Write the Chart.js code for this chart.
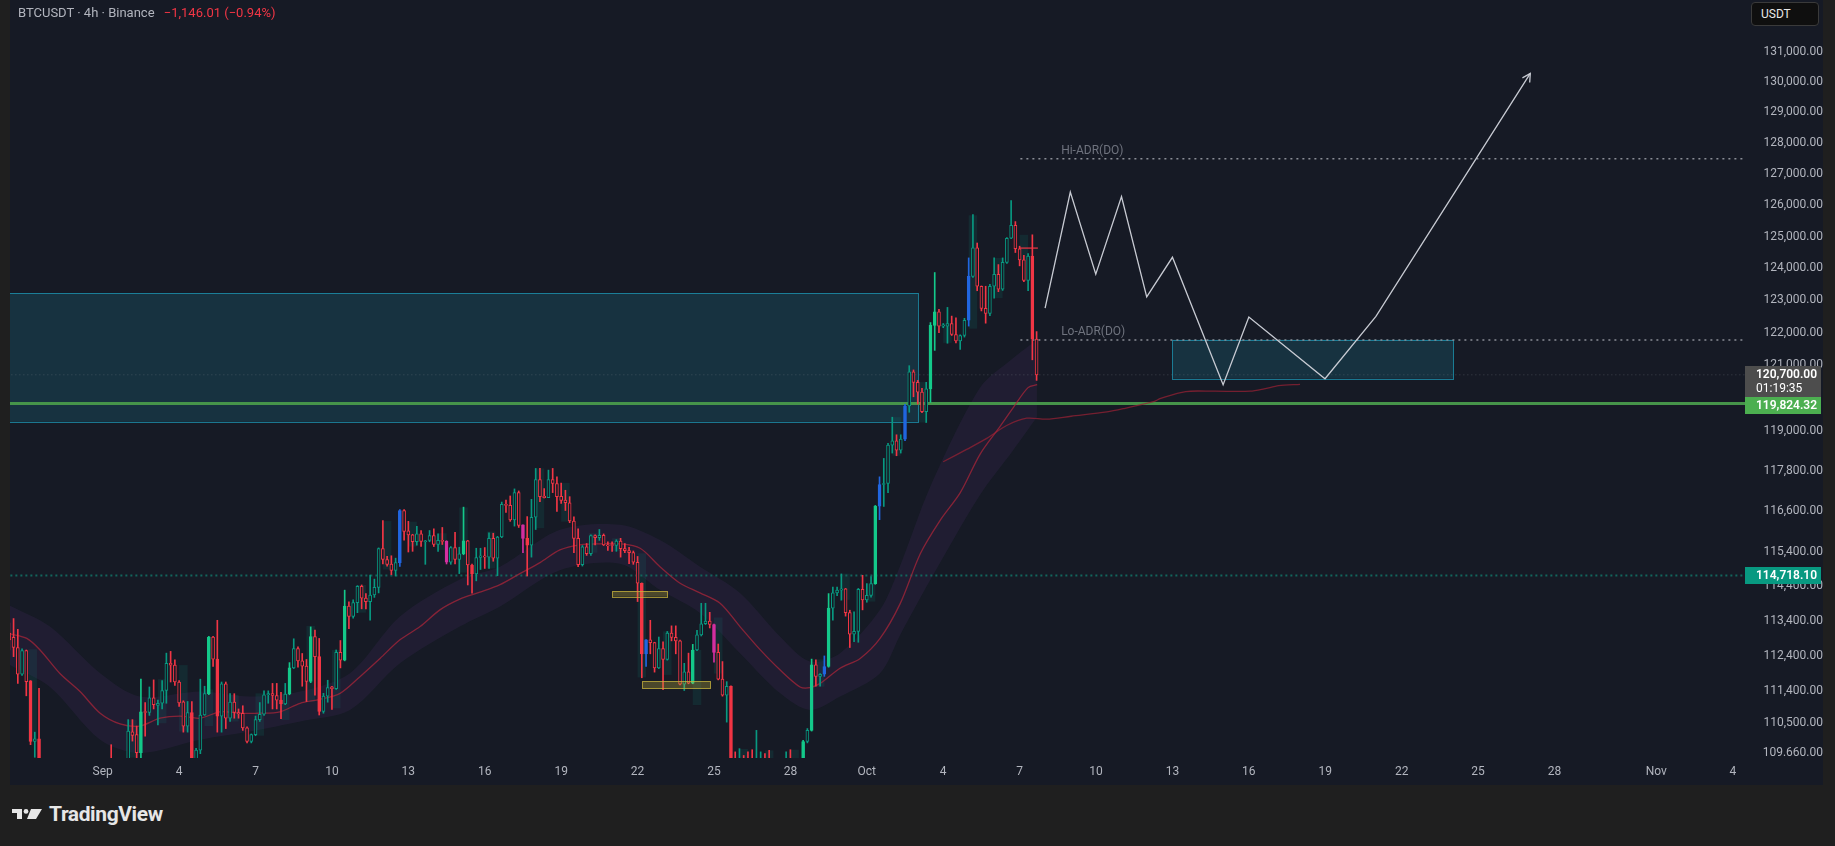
<!DOCTYPE html>
<html lang="en">
<head>
<meta charset="UTF-8">
<title>BTCUSDT 4h Binance</title>
<script src="https://cdn.jsdelivr.net/npm/chart.js"></script>
<style>
  html, body { margin: 0; padding: 0; width: 1835px; height: 846px; overflow: hidden; background: #1f1f1f; font-family: Roboto, "Liberation Sans", sans-serif; }
  #panel { position: absolute; left: 10px; top: 0; width: 1813px; height: 785px; background: #161a25; }
  #title { position: absolute; left: 18px; top: 5px; font-size: 13px; color: #b2b5be; white-space: nowrap; }
  #title .chg { color: #f23645; margin-left: 6px; }
  #unit { position: absolute; left: 1751px; top: 2px; width: 68px; height: 24px; box-sizing: border-box; border: 1px solid #3a3a3a; border-radius: 4px; background: #0f0f0f; color: #e8e8e8; font-size: 12px; line-height: 22px; padding-left: 9px; }
  #logo { position: absolute; left: 12px; top: 802px; height: 24px; display: flex; align-items: center; color: #e6e6e6; font-size: 21px; font-weight: 700; letter-spacing: -0.4px; }
  #logo svg { margin-right: 7px; margin-top: -1px; }
</style>
</head>
<body>
<div id="panel"><canvas id="btcChart" width="1813" height="785"></canvas></div>
<div id="title">BTCUSDT · 4h · Binance <span class="chg">−1,146.01 (−0.94%)</span></div>
<div id="unit">USDT</div>
<div id="logo">
  <svg width="30" height="10" viewBox="0 0 30 10"><rect x="0" y="0" width="10" height="4" fill="#e6e6e6"/><rect x="5" y="0" width="5" height="10" fill="#e6e6e6"/><circle cx="14" cy="2.4" r="2.4" fill="#e6e6e6"/><polygon points="19,0 30,0 24,10 15,10" fill="#e6e6e6"/></svg>
  TradingView
</div>
<script>
// --- 4h candles, first bar Aug 28 08:00 (day 0 = Sep 1) ---
const firstCandleDay = -11 / 3;
const candleStep = 1 / 6;
// [open, high, low, close]
const ohlc = [
  [113050,113340,112570,112860],[112930,113470,112380,112640],[112640,113160,111620,111880],[111880,112600,111850,112550],
  [112550,112570,111270,111670],[111690,111700,109900,109990],[109990,110250,109550,110060],[110060,111480,109000,109300],
  [109300,109450,108800,108950],[108950,109200,108400,108600],[108600,108900,108100,108300],[108300,108700,107900,108500],
  [108500,109000,108300,108800],[108800,109300,108500,109000],[109000,109400,108700,108900],[108900,109200,108300,108500],
  [108500,108800,107800,108100],[108100,108600,107600,108400],[108400,109100,108200,108900],[108900,109400,108600,109100],
  [109100,109400,108700,108800],[108800,109300,108500,109000],[109000,109450,108800,109200],[109200,109450,108900,109300],
  [109300,109900,108900,109100],[109100,109400,108600,108800],[108800,109200,108500,109000],[109000,109400,108700,109300],
  [109300,110600,109200,110280],[110260,110600,110000,110160],[110180,110420,109400,109680],[109680,111740,109300,110820],
  [110820,111080,110140,110800],[110800,111520,110720,111210],[111210,111720,110900,111020],[111000,111150,110450,111060],
  [111060,111700,110900,111420],[111420,112480,111060,112190],[112190,112530,111660,112140],[112140,112290,111560,111660],
  [111660,111700,110970,111070],[111100,111130,110250,110420],[110420,111110,110250,110800],[110800,111110,109000,109300],
  [109300,109800,109000,109750],[109750,111740,109650,110730],[110730,111540,110720,111330],[111330,112960,111300,112940],
  [112940,112960,112100,112310],[112310,113420,110250,110700],[110700,111660,110250,111610],[111610,111660,110350,110640],
  [110640,111330,110550,111090],[111090,111330,110640,110800],[110800,110900,110640,110760],[110780,110990,110300,110370],
  [110370,110400,109950,109990],[109990,110200,109950,110180],[110180,110700,110150,110600],[110600,111080,110550,110750],
  [110750,111410,110720,111300],[111300,111410,111060,111330],[111330,111620,110900,111280],[111280,111620,110900,111150],
  [111150,111370,110630,111040],[111040,111620,111020,111320],[111320,112210,111300,112060],[112060,112890,112040,112610],
  [112610,112660,112080,112260],[112260,112470,111540,112110],[112110,112300,111110,111680],[111680,113230,111640,112950],
  [112950,113140,111290,112380],[112380,112900,110730,110830],[110830,111340,110780,111260],[111260,111710,111090,111500],
  [111520,111540,110890,111470],[111470,112570,111450,112500],[112500,112840,112060,112280],[112280,114290,112260,113830],
  [113830,113950,113180,113530],[113530,114010,113480,113930],[113930,114420,113640,114400],[114400,114440,113750,114060],
  [114060,114190,113750,113960],[113960,114730,113420,114150],[114150,114610,114080,114370],[114370,115520,114210,115500],
  [115500,116320,115050,115180],[115180,115270,114990,115040],[115050,115290,114740,114860],[114860,115220,114700,115090],
  [115090,116650,114980,116620],[116620,116650,115750,116000],[116020,116300,115400,115900],[115900,115920,115420,115700],
  [115700,116150,115600,115930],[115930,116030,115560,115710],[115700,115740,115040,115730],[115740,116030,115700,115880],
  [115880,116080,115560,115620],[115620,115930,115420,115740],[115740,116120,115620,115710],[115710,115730,115050,115100],
  [115100,115560,115040,115530],[115530,115980,115050,115180],[115180,115540,114770,115350],[115350,116720,115320,115730],
  [115730,115740,114440,115020],[115020,115050,114200,114760],[114760,115510,114560,115240],[115240,115510,114890,115290],
  [115290,115530,114920,115250],[115250,115960,114920,115800],[115800,115950,115130,115220],[115220,115860,114710,115840],
  [115840,116870,115820,116800],[116800,116930,116560,116770],[116770,117050,116300,116340],[116340,117260,116160,117150],
  [117150,117200,116120,116180],[116200,116200,115380,115800],[115800,116440,114700,115600],[115600,116950,115250,116420],
  [116420,117870,116060,117540],[117540,117870,116880,117030],[117050,117270,116990,117000],[117000,117820,117000,117540],
  [117540,117870,117150,117420],[117420,117620,116590,117030],[117040,117430,116830,116920],[116930,117220,116620,116850],
  [116850,117030,116260,116310],[116310,116430,115380,115800],[115800,116080,114970,115030],[115030,115590,114990,115550],
  [115550,115650,115300,115350],[115350,115900,115300,115880],[115880,115900,115610,115820],[115820,116060,115740,115890],
  [115890,115930,115590,115610],[115610,115700,115450,115580],[115600,115700,115420,115590],[115590,115760,115420,115720],
  [115720,115800,115250,115500],[115500,115650,115380,115440],[115440,115540,115060,115380],[115380,115430,115040,115100],
  [115100,115270,113960,114490],[114490,114500,111780,112460],[112460,112870,112100,112860],[112860,113420,112460,112780],
  [112780,112790,111940,112060],[112060,112940,112040,112610],[112610,112800,111440,112300],[112300,113100,112280,113050],
  [113050,113260,112830,112930],[112930,113260,112460,112830],[112830,112850,111580,111600],[111600,112190,111420,111950],
  [111950,112480,111610,111630],[111630,112730,111610,112570],[112570,113130,112550,113000],[113000,113910,112970,113320],
  [113320,113910,113300,113400],[113400,113650,113200,113300],[113300,113310,112220,112500],[112500,112740,111720,111740],
  [111740,112240,111260,111290],[111290,111670,110530,111540],[111540,111550,108900,109300],[109300,109700,108800,109000],
  [109000,109790,108900,109350],[109350,109600,108700,108900],[108900,109700,108600,108800],[108800,109760,108600,108700],
  [108700,110300,108600,109100],[109100,109700,109000,109400],[109400,109650,108900,109100],[109100,109740,108700,108900],
  [108900,109400,108700,109200],[109200,109450,109000,109300],[109300,109450,108900,109100],[109100,109700,109000,109350],
  [109350,109760,109000,109100],[109100,109450,108950,109250],[109250,109450,109100,109300],[109300,110020,109200,109990],
  [109990,110350,109950,110300],[110300,112310,110280,112150],[112150,112290,111540,111820],[111820,111900,111540,111880],
  [111880,112400,111820,112100],[112100,114190,112080,113770],[113770,114380,113420,114210],[114210,114380,114130,114290],
  [114290,114760,114000,114330],[114330,114340,113540,113640],[113640,113710,112640,113020],[113020,113660,112810,113100],
  [113100,114340,112790,114310],[114310,114720,113720,114010],[114010,114480,113940,114140],[114140,114680,114090,114480],
  [114480,116770,114460,116750],[116750,117620,116350,117390],[117390,118170,116740,117420],[117420,118620,117150,118570],
  [118570,119410,118330,118700],[118700,118880,118250,118420],[118420,118880,118330,118750],[118750,119800,118700,119750],
  [119750,120980,119560,120790],[120790,120850,120030,120470],[120470,120530,119810,120170],[120170,120290,119550,119580],
  [119580,120470,119250,120270],[120270,122310,119860,122220],[122220,123870,121450,122640],[122640,122720,122000,122200],
  [122200,122280,122150,122240],[122200,122780,121670,122280],[122280,122510,121910,121940],[121940,122460,121680,121740],
  [121740,121930,121480,121910],[121910,122440,121860,122380],[122380,124330,122200,123750],[123750,125700,123720,124650],
  [124650,124800,123300,123440],[123440,123450,122670,122750],[122750,123440,122290,122590],[122590,123500,122520,123440],
  [123440,124330,123070,123810],[123810,124120,123270,123350],[123350,124330,123310,124190],[124190,124970,124160,124950],
  [124950,126150,124940,125360],[125360,125480,124500,124620],[124620,124700,124080,124270],[124270,124410,123580,123620],
  [123620,124470,123300,124390],[124390,125060,121160,121800],[121800,122030,120530,120700]
];
// high-volume bars (solid bodies) and signal bars
const solidBars = [5, 7, 31, 43, 47, 49, 64, 66, 71, 73, 79, 107, 109, 122, 149, 161, 170, 187, 189, 193, 204, 217, 218, 241];
const blueBars = [92, 150, 192, 205, 211, 226];
const pinkBars = [103, 121, 166];

// shaded session zones: left edge in bars, low, high
const zoneEdge = [4.5, 28, 35, 40, 46, 52, 58, 64, 70, 76, 82, 88, 94, 101, 106, 112.5, 124, 130, 136.5, 142, 148, 154, 161, 166, 172, 178, 184, 190, 196, 202, 208, 214, 220, 226, 232, 238];
const zoneLow  = [109990, 109540, 110500, 110270, 110420, 110550, 110150, 110590, 111100, 110920, 113640, 114890, 115560, 115460, 114800, 114920, 116100, 116290, 115380, 115430, 111790, 111860, 111010, 111900, 109400, 109400, 109400, 111530, 114010, 113960, 118250, 119250, 121680, 122120, 123070, 124270];
const zoneHigh = [112590, 110590, 111740, 112140, 111450, 111290, 111340, 111340, 113260, 112570, 114440, 116310, 116290, 115950, 116710, 116000, 117870, 117440, 115950, 115800, 115360, 113100, 112570, 113500, 109780, 109740, 109760, 112300, 114770, 114480, 119410, 120480, 122290, 125680, 124330, 125060];

// moving average and its band
const emaDays = [-3.64, -2.98, -2.46, -1.68, -0.89, -0.1, 0.68, 1.46, 2.25, 3.03, 3.82, 4.6, 5.39, 6.17, 6.96, 7.75, 8.53, 9.32, 10.1, 10.89, 11.67, 12.46, 13.24, 14.02, 14.81, 15.6, 16.38, 17.17, 17.95, 18.74, 19.53, 20.31, 21.1, 21.88, 22.67, 23.45, 24.24, 25.02, 25.81, 26.6, 27.38, 27.77, 28.17, 28.95, 29.74, 30.52, 31.31, 32.1, 32.88, 33.67, 34.45, 35.24, 35.75, 36.33, 36.69];
const emaValues = [113030, 112900, 112570, 111900, 111390, 110780, 110480, 110420, 110640, 110700, 110640, 110820, 110780, 110780, 110820, 111060, 111170, 111340, 111810, 112330, 112860, 113240, 113720, 114030, 114230, 114450, 114770, 115090, 115460, 115610, 115640, 115640, 115510, 114970, 114490, 114210, 113910, 113240, 112580, 112000, 111520, 111500, 111620, 112050, 112330, 112900, 113900, 115350, 116330, 117150, 118300, 119140, 119700, 120310, 120400];
const bandDays  = [-3.64, -2.07, -0.1, 1.46, 3.82, 5.78, 7.75, 9.71, 11.67, 14.02, 15.6, 17.95, 20.31, 21.88, 23.45, 25.02, 26.6, 27.77, 28.95, 30.52, 31.31, 32.48, 34.45, 35.74, 36.68];
const bandUpper = [113840, 113240, 111910, 111250, 111390, 111250, 111390, 111910, 113530, 114600, 114970, 116050, 116200, 115750, 114970, 114210, 112950, 112240, 112480, 113720, 115000, 117300, 120310, 121210, 121780];
const bandLower = [112140, 111520, 110040, 109670, 110040, 110270, 110550, 110870, 112190, 113240, 113820, 114870, 115060, 114300, 113630, 112480, 111340, 110870, 111250, 111910, 113000, 114570, 117090, 118410, 119420];
const slowDays   = [33.0, 33.92, 34.71, 35.49, 36.28, 37.06, 38.02, 39.43, 40.14, 41.26, 41.54, 42.52, 43.63, 45.05, 45.6, 46.17, 47.01];
const slowValues = [118070, 118440, 118770, 119160, 119380, 119350, 119440, 119570, 119680, 119880, 119980, 120190, 120200, 120200, 120270, 120370, 120410];

// drawn projection path
const pathDays   = [37.0, 37.99, 38.99, 40.0, 40.99, 42.0, 43.99, 45.0, 47.99, 49.99, 56.05];
const pathPrices = [122760, 126420, 123820, 126280, 123110, 124350, 120400, 122480, 120580, 122500, 130280];

// price levels
const supportLevel = 119824.32;
const keyLevel = 114718.10;
const lastPrice = 120700;
const countdown = '01:19:35';
const adrStartDay = 36.03;
const hiAdr = 127490;
const loAdr = 121770;
const dayOpen = 124640;
const dayOpenFrom = 36.0;

// zones drawn on chart: [big supply box, target box]
const boxFrom = [-3.9, 42.0];
const boxTo   = [32.02, 53.04];
const boxLow  = [119270, 120580];
const boxHigh = [123230, 121780];
const markFrom = [20.01, 21.19];
const markTo   = [22.18, 23.87];
const markLow  = [114100, 111470];
const markHigh = [114260, 111680];

// axes
const xTickDays   = [0, 3, 6, 9, 12, 15, 18, 21, 24, 27, 30, 33, 36, 39, 42, 45, 48, 51, 54, 57, 61, 64];
const xTickLabels = ['Sep', '4', '7', '10', '13', '16', '19', '22', '25', '28', 'Oct', '4', '7', '10', '13', '16', '19', '22', '25', '28', 'Nov', '4'];
const yTickValues = [131000, 130000, 129000, 128000, 127000, 126000, 125000, 124000, 123000, 122000, 121000, 119000, 117800, 116600, 115400, 114400, 113400, 112400, 111400, 110500, 109660];
const yTickLabels = ['131,000.00', '130,000.00', '129,000.00', '128,000.00', '127,000.00', '126,000.00', '125,000.00', '124,000.00', '123,000.00', '122,000.00', '121,000.00', '119,000.00', '117,800.00', '116,600.00', '115,400.00', '114,400.00', '113,400.00', '112,400.00', '111,400.00', '110,500.00', '109.660.00'];

const BG = '#161a25';
const FONT = 'Roboto, "Liberation Sans", sans-serif';
const candleDays = ohlc.map((r, i) => firstCandleDay + i * candleStep);

function barColor(i) {
  if (blueBars.includes(i)) return '#2166e0';
  if (pinkBars.includes(i)) return '#d42fa0';
  const up = ohlc[i][3] >= ohlc[i][0];
  if (up) return solidBars.includes(i) ? '#14c98a' : '#089981';
  return '#f23645';
}
function bodyFill(i) {
  if (blueBars.includes(i) || pinkBars.includes(i) || solidBars.includes(i)) return barColor(i);
  return BG;
}
function fmtPrice(v) {
  return v.toLocaleString('en-US', { minimumFractionDigits: 2, maximumFractionDigits: 2 });
}
function hLine(level, from, to) {
  return [{ x: from, y: level }, { x: to, y: level }];
}
// keep the plot flush with the panel edges
function noPad(s) {
  s.paddingTop = 0; s.paddingBottom = 0; s.paddingLeft = 0; s.paddingRight = 0;
}

const decorations = {
  id: 'decorations',
  beforeDatasetsDraw(chart) {
    const { ctx, chartArea: a, scales: { x, y } } = chart;
    ctx.save();
    ctx.beginPath();
    ctx.rect(a.left, a.top, a.right - a.left, a.bottom - a.top);
    ctx.clip();
    // session zones
    ctx.fillStyle = 'rgba(8, 153, 129, 0.13)';
    zoneEdge.forEach((e, i) => {
      const x0 = x.getPixelForValue(firstCandleDay + e * candleStep);
      const x1 = x.getPixelForValue(firstCandleDay + (e + 2) * candleStep);
      const y0 = y.getPixelForValue(zoneHigh[i]);
      const y1 = y.getPixelForValue(zoneLow[i]);
      ctx.fillRect(x0, y0, x1 - x0, y1 - y0);
    });
    // rectangles
    boxFrom.forEach((f, i) => {
      const x0 = x.getPixelForValue(f), x1 = x.getPixelForValue(boxTo[i]);
      const y0 = y.getPixelForValue(boxHigh[i]), y1 = y.getPixelForValue(boxLow[i]);
      ctx.fillStyle = 'rgba(30, 160, 190, 0.18)';
      ctx.fillRect(x0, y0, x1 - x0, y1 - y0);
      ctx.strokeStyle = 'rgba(30, 160, 190, 0.7)';
      ctx.lineWidth = 1;
      ctx.strokeRect(Math.round(x0) + 0.5, Math.round(y0) + 0.5, Math.round(x1 - x0), Math.round(y1 - y0));
    });
    ctx.restore();
  },
  afterDatasetsDraw(chart) {
    const { ctx, chartArea: a, scales: { x, y } } = chart;
    ctx.save();
    ctx.beginPath();
    ctx.rect(a.left, a.top, a.right - a.left, a.bottom - a.top);
    ctx.clip();
    // yellow marks
    markFrom.forEach((f, i) => {
      const x0 = x.getPixelForValue(f), x1 = x.getPixelForValue(markTo[i]);
      const y0 = y.getPixelForValue(markHigh[i]), y1 = y.getPixelForValue(markLow[i]);
      ctx.fillStyle = 'rgba(200, 180, 60, 0.3)';
      ctx.fillRect(x0, y0, x1 - x0, y1 - y0);
      ctx.strokeStyle = 'rgba(200, 180, 60, 0.75)';
      ctx.lineWidth = 1;
      ctx.strokeRect(Math.round(x0) + 0.5, Math.round(y0) + 0.5, Math.round(x1 - x0), Math.round(y1 - y0));
    });
    // arrow head on the path end
    const n = pathDays.length;
    const px = x.getPixelForValue(pathDays[n - 1]), py = y.getPixelForValue(pathPrices[n - 1]);
    const qx = x.getPixelForValue(pathDays[n - 2]), qy = y.getPixelForValue(pathPrices[n - 2]);
    const ang = Math.atan2(py - qy, px - qx);
    ctx.strokeStyle = '#c8cbd3';
    ctx.lineWidth = 1.3;
    ctx.beginPath();
    ctx.moveTo(px - 9 * Math.cos(ang - 0.5), py - 9 * Math.sin(ang - 0.5));
    ctx.lineTo(px, py);
    ctx.lineTo(px - 9 * Math.cos(ang + 0.5), py - 9 * Math.sin(ang + 0.5));
    ctx.stroke();
    // ADR labels
    ctx.fillStyle = '#6f737e';
    ctx.font = '12px ' + FONT;
    ctx.textAlign = 'left';
    ctx.textBaseline = 'bottom';
    const lx = x.getPixelForValue(adrStartDay + 1.6);
    ctx.fillText('Hi-ADR(DO)', lx, y.getPixelForValue(hiAdr) - 2);
    ctx.fillText('Lo-ADR(DO)', lx, y.getPixelForValue(loAdr) - 2);
    ctx.restore();
  },
  afterDraw(chart) {
    const { ctx, scales: { y } } = chart;
    const left = y.left, w = 76;
    ctx.save();
    ctx.textBaseline = 'middle';
    ctx.textAlign = 'left';
    ctx.font = '600 12px ' + FONT;
    // last price + countdown
    const ly = y.getPixelForValue(lastPrice);
    const gTop = Math.round(ly - 9);
    ctx.fillStyle = '#4d4d4d';
    ctx.fillRect(left, gTop, w, 31);
    ctx.fillStyle = '#ffffff';
    ctx.fillText(fmtPrice(lastPrice), left + 11, gTop + 9);
    ctx.font = '12px ' + FONT;
    ctx.fillText(countdown, left + 11, gTop + 23);
    // support level
    ctx.font = '600 12px ' + FONT;
    const sTop = Math.max(Math.round(y.getPixelForValue(supportLevel) - 8.5), gTop + 31);
    ctx.fillStyle = '#4caf50';
    ctx.fillRect(left, sTop, w, 17);
    ctx.fillStyle = '#ffffff';
    ctx.fillText(fmtPrice(supportLevel), left + 11, sTop + 9);
    // key level
    const kTop = Math.round(y.getPixelForValue(keyLevel) - 8.5);
    ctx.fillStyle = '#089981';
    ctx.fillRect(left, kTop, w, 17);
    ctx.fillStyle = '#ffffff';
    ctx.fillText(fmtPrice(keyLevel), left + 11, kTop + 9);
    ctx.restore();
  }
};

const ctx = document.getElementById('btcChart').getContext('2d');
new Chart(ctx, {
  data: {
    datasets: [
      { type: 'line', label: 'band top', data: bandDays.map((d, i) => ({ x: d, y: bandUpper[i] })),
        borderWidth: 0, pointRadius: 0, tension: 0.3, fill: false, order: 20 },
      { type: 'line', label: 'band bottom', data: bandDays.map((d, i) => ({ x: d, y: bandLower[i] })),
        borderWidth: 0, pointRadius: 0, tension: 0.3, fill: '-1', backgroundColor: 'rgba(110, 60, 150, 0.12)', order: 20 },
      { type: 'line', label: 'price line', data: hLine(lastPrice, -5, 70),
        borderColor: 'rgba(140, 143, 154, 0.35)', borderWidth: 1, borderDash: [1, 3], pointRadius: 0, order: 15 },
      { type: 'line', label: 'support', data: hLine(supportLevel, -5, 70),
        borderColor: '#46944a', borderWidth: 3, pointRadius: 0, order: 14 },
      { type: 'line', label: 'key level', data: hLine(keyLevel, -5, 70),
        borderColor: '#13665d', borderWidth: 2, borderDash: [2, 3], pointRadius: 0, order: 14 },
      { type: 'line', label: 'Hi-ADR', data: hLine(hiAdr, adrStartDay, 70),
        borderColor: '#8a8d96', borderWidth: 1.5, borderDash: [2, 4], pointRadius: 0, order: 14 },
      { type: 'line', label: 'Lo-ADR', data: hLine(loAdr, adrStartDay, 70),
        borderColor: '#8a8d96', borderWidth: 1.5, borderDash: [2, 4], pointRadius: 0, order: 14 },
      { type: 'line', label: 'ma', data: emaDays.map((d, i) => ({ x: d, y: emaValues[i] })),
        borderColor: 'rgba(170, 38, 58, 0.75)', borderWidth: 1.3, pointRadius: 0, tension: 0.3, order: 12 },
      { type: 'line', label: 'slow ma', data: slowDays.map((d, i) => ({ x: d, y: slowValues[i] })),
        borderColor: 'rgba(150, 34, 52, 0.75)', borderWidth: 1.3, pointRadius: 0, tension: 0.3, order: 12 },
      { type: 'bar', label: 'wicks', data: ohlc.map((r, i) => ({ x: candleDays[i], y: [r[2], r[1]] })),
        backgroundColor: ohlc.map((r, i) => barColor(i)), barThickness: 1, grouped: false, order: 6 },
      { type: 'bar', label: 'bodies', data: ohlc.map((r, i) => ({ x: candleDays[i], y: [r[0], r[3]] })),
        backgroundColor: ohlc.map((r, i) => bodyFill(i)), borderColor: ohlc.map((r, i) => barColor(i)),
        borderWidth: 1, borderSkipped: false, barThickness: 3, minBarLength: 1, grouped: false, order: 5 },
      { type: 'line', label: 'day open', data: hLine(dayOpen, dayOpenFrom, candleDays[candleDays.length - 1] + 0.05),
        borderColor: '#f23645', borderWidth: 1.2, pointRadius: 0, order: 4 },
      { type: 'line', label: 'path', data: pathDays.map((d, i) => ({ x: d, y: pathPrices[i] })),
        borderColor: '#c8cbd3', borderWidth: 1.3, pointRadius: 0, tension: 0, order: 1 }
    ]
  },
  options: {
    responsive: false,
    animation: false,
    layout: { padding: 0 },
    plugins: { legend: { display: false }, tooltip: { enabled: false } },
    scales: {
      x: {
        type: 'linear', min: -3.64, max: 64.48, offset: false,
        grid: { display: false, drawTicks: false, offset: false }, border: { display: false },
        afterBuildTicks: s => { s.ticks = xTickDays.map(v => ({ value: v })); },
        afterFit: s => { s.height = 27; noPad(s); },
        ticks: { color: '#b2b5be', font: { size: 12, family: FONT }, padding: 7, autoSkip: false, maxRotation: 0,
                 callback: (v, i) => xTickLabels[i] }
      },
      y: {
        type: 'logarithmic', position: 'right', min: 109530, max: 132728,
        grid: { display: false, drawTicks: false }, border: { display: false },
        afterBuildTicks: s => { s.ticks = yTickValues.map(v => ({ value: v })); },
        afterFit: s => { s.width = 78; noPad(s); },
        ticks: { color: '#b2b5be', font: { size: 12, family: FONT }, padding: 7, crossAlign: 'far', autoSkip: false,
                 callback: (v, i) => yTickLabels[i] }
      }
    }
  },
  plugins: [decorations]
});
</script>
</body>
</html>
